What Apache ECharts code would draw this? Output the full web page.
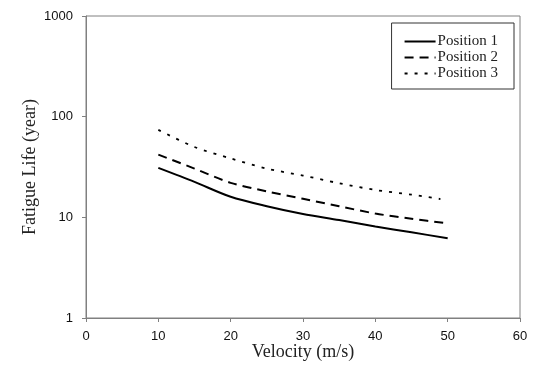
<!DOCTYPE html>
<html>
<head>
<meta charset="utf-8">
<script src="https://cdn.jsdelivr.net/npm/echarts@6/dist/echarts.min.js"></script>
<style>html,body{margin:0;padding:0;background:#fff}#c{width:540px;height:367px}</style>
</head>
<body>
<div id="c"></div>
<script>
const velocity = [10, 15, 20, 25, 30, 35, 40, 45, 50];
const velocity3 = [10, 15, 20, 25, 30, 35, 40, 45, 49];
const position1 = [31, 22.5, 16, 12.9, 10.8, 9.4, 8.1, 7.1, 6.2];
const position2 = [42, 30.5, 22, 18.1, 15.3, 12.9, 10.9, 9.7, 8.7];
const position3 = [74, 50, 38.5, 30.5, 26, 21.8, 18.7, 16.8, 15.2];
const seriesNames = ['Position 1', 'Position 2', 'Position 3'];

const zip = (xs, ys) => xs.map((x, i) => [x, ys[i]]);

const chart = echarts.init(document.getElementById('c'));
chart.setOption({
  animation: false,
  backgroundColor: '#fff',
  grid: { left: 86, right: 20, top: 16, bottom: 49, show: true, borderColor: '#808080', borderWidth: 1,
    containLabel: false, outerBoundsMode: 'none' },
  legend: {
    orient: 'vertical',
    right: 26, top: 23,
    padding: [11, 16, 8, 12],
    itemWidth: 31, itemHeight: 12, itemGap: 1,
    borderColor: '#333', borderWidth: 1,
    itemStyle: { opacity: 0 },
    textStyle: { fontFamily: 'Liberation Serif', fontSize: 15, lineHeight: 15, color: '#222', padding: [0, 0, 0, -3] },
    data: seriesNames
  },
  xAxis: {
    type: 'value', min: 0, max: 60, interval: 10,
    name: 'Velocity (m/s)', nameLocation: 'middle', nameGap: 25, nameMoveOverlap: false,
    nameTextStyle: { fontFamily: 'Liberation Serif', fontSize: 18, color: '#222' },
    axisLine: { lineStyle: { color: '#808080' } },
    axisTick: { show: true, inside: false, length: 4, lineStyle: { color: '#808080' } },
    axisLabel: { fontFamily: 'Liberation Sans', fontSize: 13, color: '#111', margin: 12 },
    splitLine: { show: false }
  },
  yAxis: {
    type: 'log', logBase: 10, min: 1, max: 1000,
    name: 'Fatigue Life (year)', nameLocation: 'middle', nameGap: 47, nameMoveOverlap: false,
    nameTextStyle: { fontFamily: 'Liberation Serif', fontSize: 18, color: '#222' },
    axisLine: { show: true, lineStyle: { color: '#808080' } },
    axisTick: { show: true, inside: false, length: 4, lineStyle: { color: '#808080' } },
    axisLabel: { fontFamily: 'Liberation Sans', fontSize: 13, color: '#111', margin: 13,
      formatter: v => String(Math.round(v)) },
    splitLine: { show: false }
  },
  series: [
    { name: seriesNames[0], type: 'line', smooth: 0.3, symbol: 'none', data: zip(velocity, position1),
      lineStyle: { color: '#000', width: 2, type: 'solid' }, itemStyle: { color: '#000' } },
    { name: seriesNames[1], type: 'line', smooth: 0.3, symbol: 'none', data: zip(velocity, position2),
      lineStyle: { color: '#000', width: 2, type: [9, 6] }, itemStyle: { color: '#000' } },
    { name: seriesNames[2], type: 'line', smooth: 0.3, symbol: 'none', data: zip(velocity3, position3),
      lineStyle: { color: '#000', width: 1.8, type: [3, 7] }, itemStyle: { color: '#000' } }
  ]
});
</script>
</body>
</html>
